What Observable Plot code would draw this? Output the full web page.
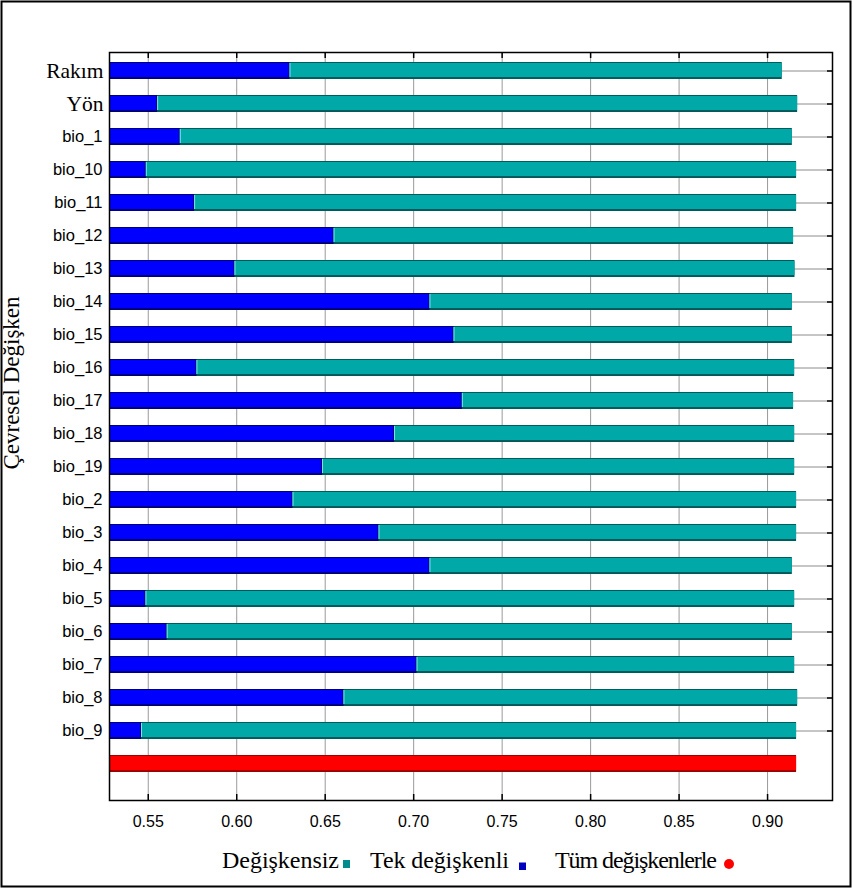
<!DOCTYPE html>
<html><head><meta charset="utf-8">
<script src="https://cdn.jsdelivr.net/npm/d3@7"></script>
<script src="https://cdn.jsdelivr.net/npm/@observablehq/plot@0.6"></script>
<style>
html,body{margin:0;padding:0;background:#fff;overflow:hidden}
#wrap{position:relative;width:853px;height:889px;}
#chart{position:absolute;left:0;top:0}
#overlay{position:absolute;left:0;top:0;pointer-events:none}
</style></head><body><div id="wrap"><div id="chart"></div></div>
<script>
// ---- data ----
const variables = ["Rakım","Yön","bio_1","bio_10","bio_11","bio_12","bio_13","bio_14","bio_15","bio_16","bio_17","bio_18","bio_19","bio_2","bio_3","bio_4","bio_5","bio_6","bio_7","bio_8","bio_9"];
const withoutVariable = [0.9083,0.9170,0.9140,0.9164,0.9164,0.9147,0.9155,0.9140,0.9140,0.9153,0.9147,0.9153,0.9153,0.9164,0.9164,0.9140,0.9153,0.9140,0.9153,0.9170,0.9164];
const withOnlyVariable = [0.6301,0.5553,0.5681,0.5489,0.5762,0.6550,0.5990,0.7092,0.7228,0.5775,0.7275,0.6892,0.6485,0.6318,0.6804,0.7092,0.5487,0.5607,0.7019,0.6606,0.5462];
const withAllVariables = 0.9164;
const xTicks = [0.55,0.60,0.65,0.70,0.75,0.80,0.85,0.90];
const legendLabels = ["Değişkensiz","Tek değişkenli","Tüm değişkenlerle"];
const yTitle = "Çevresel Değişken";

// ---- build ----
const rows = variables.map((v,i)=>({variable:v, without:withoutVariable[i], only:withOnlyVariable[i]}));
const allRow = [{variable:"__all", value:withAllVariables}];
const xMin = 0.5281, xMax = 0.9367;
const W=853, H=840, mL=109, mR=21, mT=52, mB=40;
const frameH = H-mT-mB, frameW = W-mL-mR;
const serifLabels = variables.filter(v=>!v.startsWith("bio"));
const sansLabels = variables.filter(v=>v.startsWith("bio"));
const SANS = "'Liberation Sans', Arial, sans-serif";
const SERIF = "'Liberation Serif', 'Times New Roman', serif";

const plot = Plot.plot({
  width:W, height:H, marginLeft:mL, marginRight:mR, marginTop:mT, marginBottom:mB,
  style:{background:"transparent", color:"black", fontFamily:SANS},
  x:{domain:[xMin,xMax]},
  y:{domain:[...variables,"__all"], paddingInner:0.5, paddingOuter:0.556, align:0.264},
  marks:[
    Plot.gridX(xTicks, {stroke:"#9a9a9a", strokeOpacity:1}),
    Plot.tickY(rows, {y:"variable", stroke:"#8c8c8c"}),
    Plot.tickY(rows, {y:"variable", stroke:"black", strokeWidth:1.5, insetLeft:frameW-5}),
    Plot.tickX(xTicks, {x:d=>d, stroke:"black", strokeWidth:1.5, insetBottom:frameH-6}),
    Plot.tickX(xTicks, {x:d=>d, stroke:"black", strokeWidth:1.5, insetTop:frameH-6}),
    Plot.barX(rows, {y:"variable", x1:xMin, x2:"without", fill:"#005c5c"}),
    Plot.barX(rows, {y:"variable", x1:xMin, x2:"without", fill:"#00a8a8", insetTop:1, insetBottom:2}),
    Plot.barX(rows, {y:"variable", x1:xMin, x2:"only", fill:"#00007a"}),
    Plot.barX(rows, {y:"variable", x1:xMin, x2:"only", fill:"#0000ff", insetTop:1, insetBottom:2, insetRight:1}),
    Plot.tickX(rows, {y:"variable", x:"only", stroke:"#7fe6e6", insetTop:1, insetBottom:2}),
    Plot.barX(allRow, {y:"variable", x1:xMin, x2:"value", fill:"#a00000"}),
    Plot.barX(allRow, {y:"variable", x1:xMin, x2:"value", fill:"#ff0000", insetTop:1, insetBottom:2}),
    Plot.axisX(xTicks, {anchor:"bottom", tickSize:0, tickPadding:15, tickFormat:d3.format(".2f"), fontSize:16, fontFamily:SANS, label:null}),
    Plot.axisY(serifLabels, {anchor:"left", tickSize:0, tickPadding:6, fontSize:21.5, fontFamily:SERIF, label:null}),
    Plot.axisY(sansLabels, {anchor:"left", tickSize:0, tickPadding:7, fontSize:16.5, fontFamily:SANS, label:null}),
    Plot.frame({stroke:"black", strokeWidth:1.5})
  ]
});
document.getElementById("chart").appendChild(plot);

// overlay: title, legend, border
const svg = d3.select("#wrap").append("svg").attr("id","overlay").attr("width",853).attr("height",889);
svg.append("rect").attr("x",1.5).attr("y",1.5).attr("width",849).attr("height",885)
  .attr("fill","none").attr("stroke","black").attr("stroke-width",2);
svg.append("text").attr("transform","translate(19,383) rotate(-90)")
  .attr("text-anchor","middle").attr("font-family",SERIF).attr("font-size",23).text(yTitle);
const lg = svg.append("g").attr("font-family",SERIF).attr("font-size",24);
lg.append("text").attr("x",222).attr("y",868).attr("textLength",117).attr("lengthAdjust","spacing").text(legendLabels[0]);
lg.append("rect").attr("x",343).attr("y",860).attr("width",7).attr("height",8).attr("fill","#008c8c");
lg.append("text").attr("x",370).attr("y",868).attr("textLength",139).attr("lengthAdjust","spacing").text(legendLabels[1]);
lg.append("rect").attr("x",519).attr("y",862.5).attr("width",7).attr("height",7.5).attr("fill","#0000c0");
lg.append("text").attr("x",555).attr("y",868).attr("textLength",162).attr("lengthAdjust","spacing").text(legendLabels[2]);
lg.append("circle").attr("cx",729).attr("cy",864).attr("r",5).attr("fill","#ff0000");
</script></body></html>
